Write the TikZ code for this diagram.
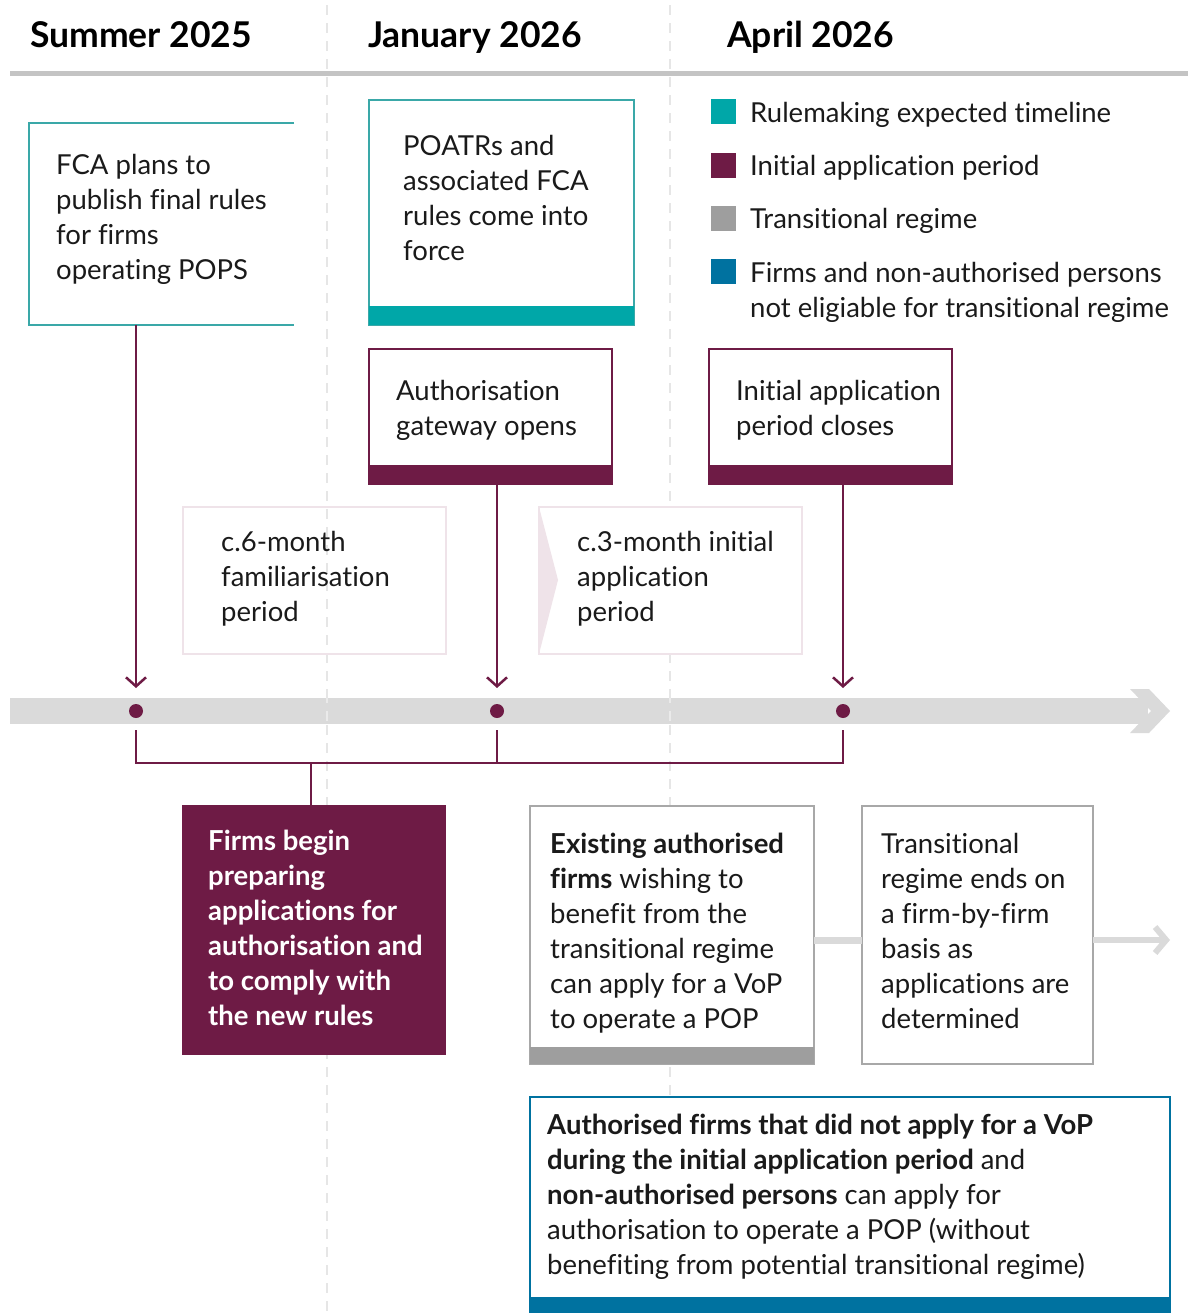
\documentclass[tikz,border=0pt]{standalone}
\usepackage{fontspec}
\setmainfont{Lato}[Ligatures=NoCommon]
\usetikzlibrary{arrows.meta,calc}

\definecolor{rulesteal}{HTML}{00A7A8}
\definecolor{boxteal}{HTML}{3AA8A8}
\definecolor{plum}{HTML}{6E1B45}
\definecolor{transgrey}{HTML}{9E9E9E}
\definecolor{boxgrey}{HTML}{A8A8A8}
\definecolor{fcablue}{HTML}{0072A0}
\definecolor{bandgrey}{HTML}{DADADA}
\definecolor{softpink}{HTML}{EFE3E9}
\definecolor{headrule}{HTML}{C4C4C4}
\definecolor{sepgrey}{HTML}{E6E6E6}
\definecolor{inktext}{HTML}{1A1A1A}

\tikzset{
  bodytext/.style={anchor=north west, inner sep=0pt, align=left, text=inktext,
    font=\fontsize{27.5}{35}\selectfont},
  headtext/.style={anchor=base west, inner sep=0pt, text=black,
    font=\fontsize{35.5}{40}\selectfont\bfseries},
  frame/.style={anchor=north west, inner sep=0pt, outer sep=0pt},
  plumline/.style={draw=plum, line width=2.5pt},
  plumarrow/.style={plumline, -{Straight Barb[length=9pt,width=20pt,line width=2.5pt]}},
  dot/.style={circle, fill=plum, inner sep=0pt, minimum size=14pt},
  swatch/.style={anchor=north west, fill=#1, inner sep=0pt, minimum size=25pt},
  separator/.style={draw=sepgrey, line width=1.5pt, dash pattern=on 10pt off 8pt},
}

\begin{document}
\begin{tikzpicture}[x=1pt,y=-1pt]
\useasboundingbox (0,0) rectangle (1188,1313);

% column separators
\draw[separator] (327,5) -- (327,1313);
\draw[separator] (670,5) -- (670,1313);

% column headings
\node[headtext] (hsummer) at (30,48) {Summer 2025};
\node[headtext] (hjan) at (368,48) {January 2026};
\node[headtext] (hapr) at (727,48) {April 2026};
\fill[headrule] (10,71) rectangle (1188,76);

% legend
\node[swatch=rulesteal] (sw1) at (711,99) {};
\node[swatch=plum] (sw2) at (711,153) {};
\node[swatch=transgrey] (sw3) at (711,206) {};
\node[swatch=fcablue] (sw4) at (711,259) {};
\node[bodytext] (lg1) at (750,102) {Rulemaking expected timeline};
\node[bodytext] (lg2) at (750,155) {Initial application period};
\node[bodytext] (lg3) at (750,208) {Transitional regime};
\node[bodytext] (lg4) at (750,262) {Firms and non-authorised persons\\not eligiable for transitional regime};

% FCA final rules box (open on its right side)
\node[frame, minimum width=265pt, minimum height=202pt] (fca) at (29,123) {};
\draw[boxteal, line width=1.5pt] (fca.north east) -- (fca.north west) -- (fca.south west) -- (fca.south east);
\node[bodytext] (fcatext) at (56,154) {FCA plans to\\publish final rules\\for firms\\operating POPS};

% POATRs box
\node[frame, draw=boxteal, fill=white, line width=1.5pt, minimum width=265pt, minimum height=225pt] (poatr) at (369,100) {};
\fill[rulesteal] (369,306) rectangle (634,325);
\node[bodytext] (poatrtext) at (403,135) {POATRs and\\associated FCA\\rules come into\\force};

% gateway opens / application period closes
\node[frame, draw=plum, fill=white, line width=1.5pt, minimum width=243pt, minimum height=135pt] (gate) at (369,349) {};
\fill[plum] (369,465) rectangle (612,484);
\node[bodytext] (gatetext) at (396,380) {Authorisation\\gateway opens};

\node[frame, draw=plum, fill=white, line width=1.5pt, minimum width=243pt, minimum height=135pt] (close) at (709,349) {};
\fill[plum] (709,465) rectangle (952,484);
\node[bodytext] (closetext) at (736,380) {Initial application\\period closes};

% period boxes
\node[frame, draw=softpink, line width=2pt, minimum width=263pt, minimum height=147pt] (fam) at (183,507) {};
\node[bodytext] (famtext) at (221,531) {c.6-month\\familiarisation\\period};

\node[frame, draw=softpink, fill=white, line width=2pt, minimum width=263pt, minimum height=147pt] (iap) at (539,507) {};
\fill[softpink] (iap.north west) -- (558,580) -- (iap.south west) -- cycle;
\node[bodytext] (iaptext) at (577,531) {c.3-month initial\\application\\period};

% timeline band with chevron head
\fill[bandgrey] (10,698) rectangle (1148,724);
\fill[bandgrey] (1130,689) -- (1149,689) -- (1170,711) -- (1149,733) -- (1130,733) -- (1151,711) -- cycle;
\draw[draw=white, opacity=0.45, line width=1.5pt, dash pattern=on 10pt off 8pt, dash phase=5pt] (327,698) -- (327,724);
\draw[draw=white, opacity=0.45, line width=1.5pt, dash pattern=on 10pt off 8pt, dash phase=5pt] (670,698) -- (670,724);

% milestones on the timeline
\node[dot] (d1) at (136,711) {};
\node[dot] (d2) at (497,711) {};
\node[dot] (d3) at (843,711) {};
\coordinate (a1) at (136,688);
\coordinate (a2) at (497,688);
\coordinate (a3) at (843,688);
\draw[plumarrow] (fca.south -| a1) -- (a1);
\draw[plumarrow] (gate.south -| a2) -- (a2);
\draw[plumarrow] (close.south -| a3) -- (a3);

% preparation box and bracket
\node[frame, fill=plum, minimum width=264pt, minimum height=250pt] (prep) at (182,805) {};
\node[bodytext, text=white, font=\fontsize{27.5}{35}\selectfont\bfseries] (preptext) at (208,830) {Firms begin\\preparing\\applications for\\authorisation and\\to comply with\\the new rules};
\coordinate (b1) at (136,730);
\coordinate (b2) at (497,730);
\coordinate (b3) at (843,730);
\coordinate (bj) at (311,763);
\draw[plumline] (b1) |- (bj) -| (b3);
\draw[plumline] (b2) -- (b2 |- bj);
\draw[plumline] (bj) -- (prep.north -| bj);

% transitional regime boxes
\node[frame, draw=boxgrey, fill=white, line width=2pt, minimum width=284pt, minimum height=258pt] (exist) at (530,806) {};
\fill[transgrey] (530,1047) rectangle (814,1064);
\node[bodytext] (existtext) at (550,833) {\textbf{Existing authorised}\\\textbf{firms} wishing to\\benefit from the\\transitional regime\\can apply for a VoP\\to operate a POP};

\node[frame, draw=boxgrey, fill=white, line width=2pt, minimum width=231pt, minimum height=258pt] (trans) at (862,806) {};
\node[bodytext] (transtext) at (881,833) {Transitional\\regime ends on\\a firm-by-firm\\basis as\\applications are\\determined};

\draw[draw=bandgrey, line width=7pt] ([yshift=-5pt]exist.east) -- ([yshift=-5pt]trans.west);
\coordinate (tend) at (1170,940);
\draw[draw=bandgrey, line width=6pt, -{Straight Barb[length=11pt,width=26pt,line width=6pt]}] ([yshift=-5pt]trans.east) -- (tend);

% not-eligible box
\node[frame, draw=fcablue, fill=white, line width=2.5pt, minimum width=640pt, minimum height=216pt] (neweligible) at (530,1097) {};
\fill[fcablue] (530,1297) rectangle (1170,1313);
\node[bodytext] (newtext) at (547,1114) {\textbf{Authorised firms that did not apply for a VoP}\\\textbf{during the initial application period} and\\\textbf{non-authorised persons} can apply for\\authorisation to operate a POP (without\\benefiting from potential transitional regime)};

\end{tikzpicture}
\end{document}
